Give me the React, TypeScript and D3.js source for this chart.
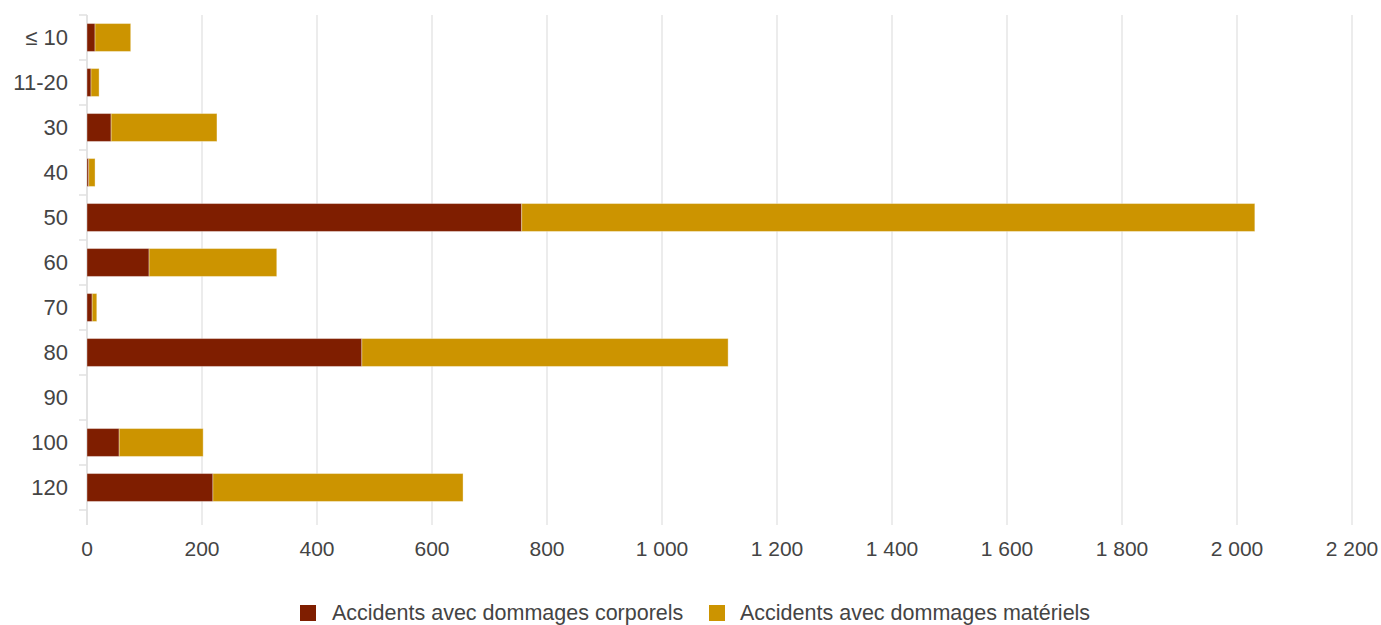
import React from "react";
import * as d3 from "d3";

const categories = ["≤ 10", "11-20", "30", "40", "50", "60", "70", "80", "90", "100", "120"];
const corporels = [14, 7, 42, 3, 756, 108, 9, 478, 0, 56, 219];
const materiels = [62, 14, 184, 11, 1275, 222, 8, 637, 0, 146, 435];
const xTicks = [0, 200, 400, 600, 800, 1000, 1200, 1400, 1600, 1800, 2000, 2200];
const seriesNames = ["Accidents avec dommages corporels", "Accidents avec dommages matériels"];
const colors = ["#7f1e00", "#cc9400"];

const W = 1381, H = 625;
const left = 87, right = 1352, top = 15, bottom = 510;

const fmt = (v: number) => d3.format(",")(v).replace(/,/g, " ");

export default function App() {
  const x = d3.scaleLinear().domain([0, 2200]).range([left, right]);
  const y = d3.scaleBand().domain(categories).range([top, bottom]).paddingInner(0.38).paddingOuter(0.19);
  const stackData = categories.map((c, i) => ({ c, a: corporels[i], b: materiels[i] }));
  const stack = d3.stack<any>().keys(["a", "b"])(stackData);
  const font = "'Liberation Sans', Arial, sans-serif";
  const boundaries = d3.range(categories.length + 1).map((i) => top + (i * (bottom - top)) / categories.length);
  return (
    <svg width={W} height={H} style={{ position: "absolute", left: 0, top: 0 }} fontFamily={font}>
      <rect width={W} height={H} fill="#fff" />
      {xTicks.map((t) => (
        <line key={t} x1={x(t)} x2={x(t)} y1={top} y2={bottom + 15} stroke="#e6e6e6" strokeWidth={1.5} />
      ))}
      <line x1={left} x2={left} y1={top} y2={bottom + 15} stroke="#e0e0e0" strokeWidth={1.5} />
      {boundaries.map((b, i) => (
        <line key={i} x1={left - 8} x2={left} y1={b} y2={b} stroke="#e0e0e0" strokeWidth={1.5} />
      ))}
      {stack.map((s, si) => (
        <g key={si} fill={colors[si]}>
          {s.map((d, i) => {
            const w = x(d[1]) - x(d[0]);
            if (w <= 0) return null;
            return (
              <rect key={i} x={x(d[0])} y={y(categories[i])!} width={w} height={y.bandwidth()}
                stroke="#ffffff" strokeOpacity={0.35} strokeWidth={1} />
            );
          })}
        </g>
      ))}
      {categories.map((c) => (
        <text key={c} x={68} y={y(c)! + y.bandwidth() / 2} dy="0.35em" textAnchor="end" fontSize={22} fill="#444">
          {c}
        </text>
      ))}
      {xTicks.map((t) => (
        <text key={t} x={x(t)} y={549} dy="0.35em" textAnchor="middle" fontSize={21} fill="#444">
          {fmt(t)}
        </text>
      ))}
      <g>
        <rect x={300} y={605} width={16} height={16} fill={colors[0]} />
        <text x={332} y={612} dy="0.35em" fontSize={21.5} fill="#444">{seriesNames[0]}</text>
        <rect x={709} y={605} width={16} height={16} fill={colors[1]} />
        <text x={740} y={612} dy="0.35em" fontSize={21.5} fill="#444">{seriesNames[1]}</text>
      </g>
    </svg>
  );
}
